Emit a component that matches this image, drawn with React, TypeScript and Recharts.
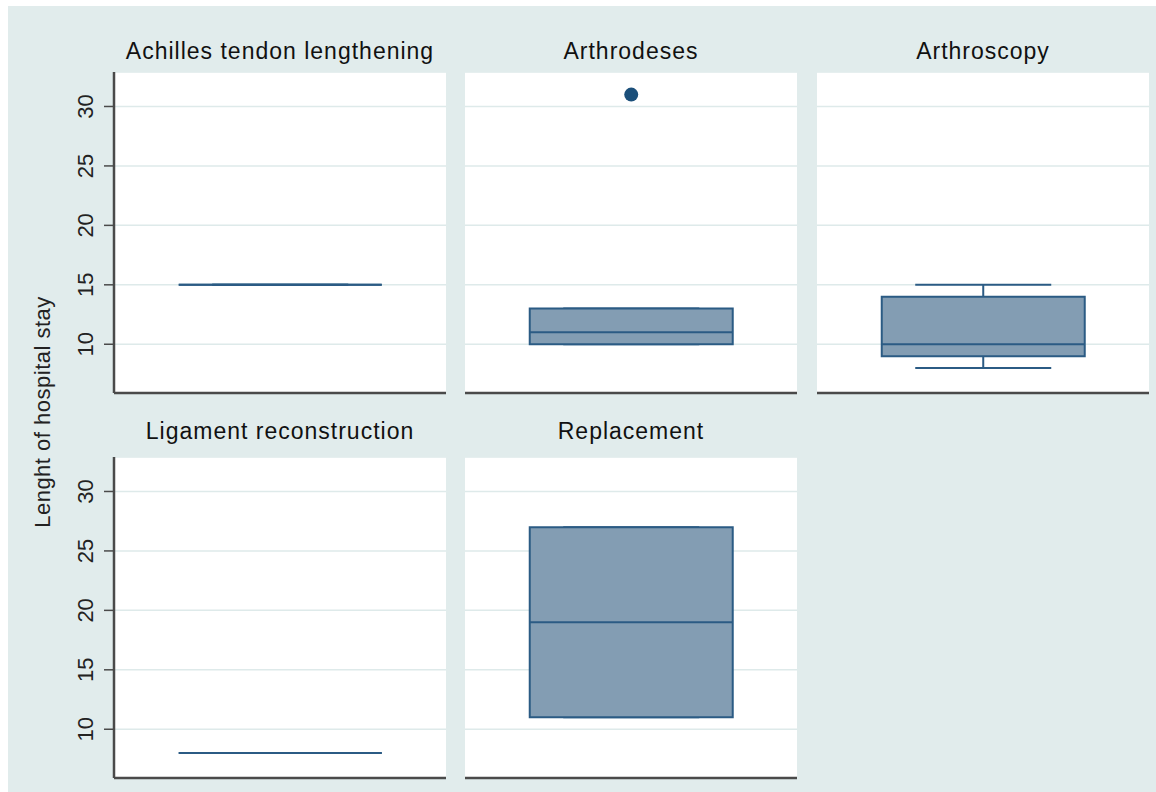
import React from 'react';
import { ComposedChart, Bar, XAxis, YAxis, CartesianGrid } from 'recharts';

// length of stay per procedure, five-number summaries
const procedures = [
  'Achilles tendon lengthening',
  'Arthrodeses',
  'Arthroscopy',
  'Ligament reconstruction',
  'Replacement',
];
const lowerWhisker = [15, 10, 8, 8, 11];
const quartile1 = [15, 10, 9, 8, 11];
const medians = [15, 11, 10, 8, 19];
const quartile3 = [15, 13, 14, 8, 27];
const upperWhisker = [15, 13, 15, 8, 27];
const outliers: number[][] = [[], [31], [], [], []];
const yTicks = [10, 15, 20, 25, 30];
const yDomain: [number, number] = [5.9, 32.9];

const BG = '#e1ecec';
const GRID = '#deeaea';
const AXIS = '#4a4a4a';
const BOX_FILL = '#839db3';
const BOX_LINE = '#2b5b84';
const FONT = '"Liberation Sans", Arial, Helvetica, sans-serif';

const PLOT_W = 332;
const PLOT_H = 321;
const COL_X = [114, 465, 817];
const ROW_Y = [72, 457];
const TITLE_BASE = [59, 439];
const Y_AXIS_W = 64;

const WhiskerShape = (props: any) => {
  const { x, y, width, height } = props;
  const cx = x + width / 2;
  const cap = width * 0.335;
  return (
    <g stroke={BOX_LINE} strokeWidth={2} fill="none">
      <line x1={cx} x2={cx} y1={y} y2={y + height} />
      <line x1={cx - cap} x2={cx + cap} y1={y} y2={y} />
      <line x1={cx - cap} x2={cx + cap} y1={y + height} y2={y + height} />
    </g>
  );
};

const BoxShape = (props: any) => {
  const { x, y, width, height } = props;
  const h = Math.abs(height);
  const top = Math.min(y, y + height);
  return (
    <path
      d={`M${x},${top}h${width}v${h}h${-width}Z`}
      fill={BOX_FILL}
      stroke={BOX_LINE}
      strokeWidth={2}
    />
  );
};

const MedianShape = (props: any) => {
  const { x, y, width } = props;
  return <line x1={x} x2={x + width} y1={y} y2={y} stroke={BOX_LINE} strokeWidth={2} />;
};

const OutlierShape = (props: any) => {
  const { x, y, width } = props;
  return <circle cx={x + width / 2} cy={y} r={7} fill="#1b4f7a" />;
};

const RotatedTick = (props: any) => {
  const { x, y, payload } = props;
  const bx = x - 9;
  return (
    <text
      x={bx}
      y={y}
      transform={`rotate(-90 ${bx} ${y})`}
      textAnchor="middle"
      fontSize={22}
      fontFamily={FONT}
      fill="#222"
    >
      {payload.value}
    </text>
  );
};

function Panel({ idx }: { idx: number }) {
  const col = idx % 3;
  const row = Math.floor(idx / 3);
  const showY = col === 0;
  const left = COL_X[col] - (showY ? Y_AXIS_W : 0);
  const width = PLOT_W + (showY ? Y_AXIS_W : 0);
  const data = [
    {
      name: procedures[idx],
      whisker: [lowerWhisker[idx], upperWhisker[idx]],
      box: [quartile1[idx], quartile3[idx]],
      median: [medians[idx], medians[idx]],
      out: outliers[idx].length ? [outliers[idx][0], outliers[idx][0]] : null,
    },
  ];
  return (
    <div style={{ position: 'absolute', left, top: ROW_Y[row] }}>
      <ComposedChart
        width={width}
        height={PLOT_H + 4}
        data={data}
        margin={{ top: 0, right: 0, bottom: 0, left: 0 }}
        barCategoryGap="19.5%"
      >
        <CartesianGrid vertical={false} stroke={GRID} strokeWidth={1.5} fill="#fff" />
        <XAxis
          dataKey="name"
          height={4}
          tick={false}
          tickLine={false}
          axisLine={{ stroke: AXIS, strokeWidth: 2.5 }}
        />
        <XAxis xAxisId="b" dataKey="name" hide />
        <XAxis xAxisId="m" dataKey="name" hide />
        <XAxis xAxisId="o" dataKey="name" hide />
        <YAxis
          domain={yDomain}
          ticks={yTicks}
          type="number"
          hide={!showY}
          width={Y_AXIS_W}
          tickSize={10}
          tick={<RotatedTick />}
          tickLine={{ stroke: AXIS, strokeWidth: 1.5 }}
          axisLine={{ stroke: AXIS, strokeWidth: 2.5 }}
          allowDataOverflow
        />
        <Bar dataKey="whisker" shape={<WhiskerShape />} isAnimationActive={false} />
        <Bar xAxisId="b" dataKey="box" shape={<BoxShape />} isAnimationActive={false} />
        <Bar xAxisId="m" dataKey="median" shape={<MedianShape />} isAnimationActive={false} />
        {outliers[idx].length > 0 && (
          <Bar xAxisId="o" dataKey="out" shape={<OutlierShape />} isAnimationActive={false} />
        )}
      </ComposedChart>
    </div>
  );
}

export default function App() {
  return (
    <div style={{ position: 'absolute', left: 0, top: 0, width: 1156, height: 792 }}>
      <div style={{ position: 'absolute', left: 8, top: 6, right: 0, bottom: 0, background: BG }} />
      {procedures.map((_, i) => (
        <Panel key={i} idx={i} />
      ))}
      {/* panel titles and the shared y-axis title */}
      <svg style={{ position: 'absolute', left: 0, top: 0 }} width={1156} height={792} pointerEvents="none">
        {procedures.map((p, i) => (
          <text
            key={p}
            x={COL_X[i % 3] + PLOT_W / 2}
            y={TITLE_BASE[Math.floor(i / 3)]}
            textAnchor="middle"
            fontSize={23}
            letterSpacing={1}
            fontFamily={FONT}
            fill="#111"
          >
            {p}
          </text>
        ))}
        <text
          x={50}
          y={412}
          transform="rotate(-90 50 412)"
          textAnchor="middle"
          fontSize={22}
          letterSpacing={0.5}
          fontFamily={FONT}
          fill="#222"
        >
          Lenght of hospital stay
        </text>
      </svg>
    </div>
  );
}
